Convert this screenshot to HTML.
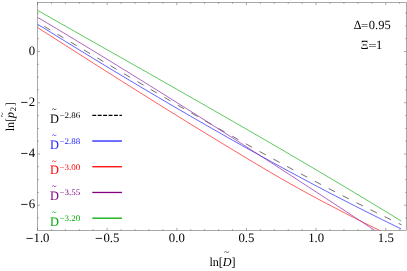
<!DOCTYPE html>
<html><head><meta charset="utf-8"><title>plot</title>
<style>
html,body{margin:0;padding:0;background:#fff;}
svg{display:block;font-family:"Liberation Serif",serif;will-change:transform;text-rendering:geometricPrecision;}
</style></head><body>
<svg width="407" height="271" viewBox="0 0 407 271">
<defs><clipPath id="c"><rect x="37.5" y="2.5" width="369.0" height="228.0"/></clipPath></defs>
<rect width="407" height="271" fill="#fff"/>
<rect x="37.5" y="2.5" width="369.0" height="228.0" fill="none" stroke="#555" stroke-width="0.5"/>
<path d="M37.50 230.5 v-2.6 M37.50 2.5 v2.6 M51.43 230.5 v-1.4 M51.43 2.5 v1.4 M65.36 230.5 v-1.4 M65.36 2.5 v1.4 M79.29 230.5 v-1.4 M79.29 2.5 v1.4 M93.22 230.5 v-1.4 M93.22 2.5 v1.4 M107.15 230.5 v-2.6 M107.15 2.5 v2.6 M121.08 230.5 v-1.4 M121.08 2.5 v1.4 M135.01 230.5 v-1.4 M135.01 2.5 v1.4 M148.94 230.5 v-1.4 M148.94 2.5 v1.4 M162.87 230.5 v-1.4 M162.87 2.5 v1.4 M176.80 230.5 v-2.6 M176.80 2.5 v2.6 M190.73 230.5 v-1.4 M190.73 2.5 v1.4 M204.66 230.5 v-1.4 M204.66 2.5 v1.4 M218.59 230.5 v-1.4 M218.59 2.5 v1.4 M232.52 230.5 v-1.4 M232.52 2.5 v1.4 M246.45 230.5 v-2.6 M246.45 2.5 v2.6 M260.38 230.5 v-1.4 M260.38 2.5 v1.4 M274.31 230.5 v-1.4 M274.31 2.5 v1.4 M288.24 230.5 v-1.4 M288.24 2.5 v1.4 M302.17 230.5 v-1.4 M302.17 2.5 v1.4 M316.10 230.5 v-2.6 M316.10 2.5 v2.6 M330.03 230.5 v-1.4 M330.03 2.5 v1.4 M343.96 230.5 v-1.4 M343.96 2.5 v1.4 M357.89 230.5 v-1.4 M357.89 2.5 v1.4 M371.82 230.5 v-1.4 M371.82 2.5 v1.4 M385.75 230.5 v-2.6 M385.75 2.5 v2.6 M399.68 230.5 v-1.4 M399.68 2.5 v1.4 M37.5 218.03 h1.4 M406.5 218.03 h-1.4 M37.5 205.22 h2.6 M406.5 205.22 h-2.6 M37.5 192.41 h1.4 M406.5 192.41 h-1.4 M37.5 179.60 h1.4 M406.5 179.60 h-1.4 M37.5 166.79 h1.4 M406.5 166.79 h-1.4 M37.5 153.98 h2.6 M406.5 153.98 h-2.6 M37.5 141.17 h1.4 M406.5 141.17 h-1.4 M37.5 128.36 h1.4 M406.5 128.36 h-1.4 M37.5 115.55 h1.4 M406.5 115.55 h-1.4 M37.5 102.74 h2.6 M406.5 102.74 h-2.6 M37.5 89.93 h1.4 M406.5 89.93 h-1.4 M37.5 77.12 h1.4 M406.5 77.12 h-1.4 M37.5 64.31 h1.4 M406.5 64.31 h-1.4 M37.5 51.50 h2.6 M406.5 51.50 h-2.6 M37.5 38.69 h1.4 M406.5 38.69 h-1.4 M37.5 25.88 h1.4 M406.5 25.88 h-1.4 M37.5 13.07 h1.4 M406.5 13.07 h-1.4" stroke="#555" stroke-width="0.5" fill="none"/>
<path d="M44.30 26.39 L50.27 29.95 M57.50 34.25 L63.49 37.82 M70.73 42.13 L76.74 45.70 M84.00 50.02 L90.02 53.60 M97.30 57.92 L103.34 61.49 M110.64 65.81 L116.69 69.39 M124.01 73.71 L130.08 77.28 M137.42 81.59 L143.50 85.16 M150.86 89.47 L156.95 93.03 M164.33 97.33 L170.44 100.88 M177.84 105.16 L183.97 108.71 M191.38 112.97 L197.52 116.50 M204.95 120.75 L211.11 124.27 M218.56 128.50 L224.74 131.99 M232.21 136.20 L238.40 139.67 M245.89 143.85 L252.09 147.30 M259.60 151.45 L265.82 154.88 M273.34 159.00 L279.58 162.40 M287.12 166.48 L293.38 169.85 M300.94 173.90 L307.21 177.23 M314.79 181.24 L321.07 184.54 M328.67 188.50 L334.97 191.76 M342.59 195.68 L348.91 198.90 M356.54 202.76 L362.87 205.94 M370.53 209.75 L376.87 212.89 M384.55 216.64 L390.91 219.73 M398.60 223.42 L401.50 224.80" stroke="#383838" stroke-width="0.72" fill="none" clip-path="url(#c)"/>
<path d="M37.50 24.18 L46.83 29.95 L56.15 35.71 L65.48 41.45 L74.80 47.17 L84.13 52.87 L93.45 58.54 L102.78 64.20 L112.11 69.83 L121.43 75.44 L130.76 81.03 L140.08 86.59 L149.41 92.12 L158.73 97.63 L168.06 103.11 L177.38 108.56 L186.71 113.98 L196.04 119.37 L205.36 124.74 L214.69 130.07 L224.01 135.37 L233.34 140.63 L242.66 145.87 L251.99 151.06 L261.32 156.23 L270.64 161.35 L279.97 166.45 L289.29 171.50 L298.62 176.51 L307.94 181.49 L317.27 186.43 L326.59 191.32 L335.92 196.18 L345.25 200.99 L354.57 205.76 L363.90 210.49 L373.22 215.17 L382.55 219.80 L391.87 224.39 L401.20 228.94" stroke="#3838ff" stroke-width="0.78" fill="none" clip-path="url(#c)"/>
<path d="M37.50 27.54 L46.83 33.48 L56.15 39.43 L65.48 45.37 L74.80 51.32 L84.13 57.26 L93.45 63.19 L102.78 69.12 L112.11 75.03 L121.43 80.93 L130.76 86.82 L140.08 92.69 L149.41 98.54 L158.73 104.37 L168.06 110.17 L177.38 115.95 L186.71 121.71 L196.04 127.44 L205.36 133.15 L214.69 138.84 L224.01 144.51 L233.34 150.16 L242.66 155.79 L251.99 161.40 L261.32 166.96 L270.64 172.46 L279.97 177.89 L289.29 183.23 L298.62 188.46 L307.94 193.59 L317.27 198.62 L326.59 203.56 L335.92 208.42 L345.25 213.22 L354.57 217.96 L363.90 222.65 L373.22 227.29 L382.55 231.87 L391.87 236.39 L401.20 240.85" stroke="#ff3030" stroke-width="0.78" fill="none" clip-path="url(#c)"/>
<path d="M37.50 17.30 L46.83 22.85 L56.15 28.42 L65.48 34.02 L74.80 39.64 L84.13 45.28 L93.45 50.95 L102.78 56.64 L112.11 62.35 L121.43 68.08 L130.76 73.84 L140.08 79.61 L149.41 85.40 L158.73 91.22 L168.06 97.05 L177.38 102.90 L186.71 108.78 L196.04 114.66 L205.36 120.57 L214.69 126.49 L224.01 132.44 L233.34 138.39 L242.66 144.36 L251.99 150.35 L261.32 156.36 L270.64 162.37 L279.97 168.41 L289.29 174.45 L298.62 180.51 L307.94 186.58 L317.27 192.67 L326.59 198.76 L335.92 204.87 L345.25 210.99 L354.57 217.12 L363.90 223.26 L373.22 229.41 L382.55 235.56 L391.87 241.73 L401.20 247.91" stroke="#9a38aa" stroke-width="0.78" fill="none" clip-path="url(#c)"/>
<path d="M37.50 10.29 L46.83 15.59 L56.15 20.88 L65.48 26.16 L74.80 31.44 L84.13 36.73 L93.45 42.00 L102.78 47.28 L112.11 52.56 L121.43 57.84 L130.76 63.13 L140.08 68.41 L149.41 73.70 L158.73 79.00 L168.06 84.30 L177.38 89.60 L186.71 94.92 L196.04 100.24 L205.36 105.57 L214.69 110.91 L224.01 116.26 L233.34 121.62 L242.66 126.99 L251.99 132.38 L261.32 137.78 L270.64 143.19 L279.97 148.62 L289.29 154.07 L298.62 159.53 L307.94 165.01 L317.27 170.51 L326.59 176.03 L335.92 181.57 L345.25 187.13 L354.57 192.71 L363.90 198.32 L373.22 203.95 L382.55 209.60 L391.87 215.28 L401.20 220.99" stroke="#30b830" stroke-width="0.78" fill="none" clip-path="url(#c)"/>
<path d="M92.3 115.30 H121.9" stroke="#000000" stroke-width="1.3" stroke-dasharray="3.9 1.53" fill="none"/>
<text transform="translate(50.00 122.80) scale(0.96 1.0)" font-size="12.9" fill="#000000">D</text>
<text transform="translate(59.50 118.10) scale(1.055 1.0)" font-size="8.5" fill="#000000">−2.86</text>
<text x="52.10" y="112.20" font-size="8.5" fill="#000000">~</text>
<path d="M92.3 141.02 H121.9" stroke="#2020ff" stroke-width="1.3" fill="none"/>
<text transform="translate(50.00 148.53) scale(0.96 1.0)" font-size="12.9" fill="#2020ff">D</text>
<text transform="translate(59.50 143.83) scale(1.055 1.0)" font-size="8.5" fill="#2020ff">−2.88</text>
<text x="52.10" y="138.16" font-size="8.5" fill="#2020ff">~</text>
<path d="M92.3 166.74 H121.9" stroke="#ff0000" stroke-width="1.3" fill="none"/>
<text transform="translate(50.00 174.26) scale(0.96 1.0)" font-size="12.9" fill="#ff0000">D</text>
<text transform="translate(59.50 169.56) scale(1.055 1.0)" font-size="8.5" fill="#ff0000">−3.00</text>
<text x="52.10" y="164.07" font-size="8.5" fill="#ff0000">~</text>
<path d="M92.3 192.46 H121.9" stroke="#800080" stroke-width="1.3" fill="none"/>
<text transform="translate(50.00 199.99) scale(0.96 1.0)" font-size="12.9" fill="#800080">D</text>
<text transform="translate(59.50 195.29) scale(1.055 1.0)" font-size="8.5" fill="#800080">−3.55</text>
<text x="52.10" y="189.19" font-size="8.5" fill="#800080">~</text>
<path d="M92.3 218.18 H121.9" stroke="#00aa00" stroke-width="1.3" fill="none"/>
<text transform="translate(50.00 225.72) scale(0.96 1.0)" font-size="12.9" fill="#00aa00">D</text>
<text transform="translate(59.50 221.02) scale(1.055 1.0)" font-size="8.5" fill="#00aa00">−3.20</text>
<text x="52.10" y="215.14" font-size="8.5" fill="#00aa00">~</text>
<text transform="translate(25.71 244.40) scale(1.08 1.35)" font-size="12.6">−</text>
<text transform="translate(33.50 242.20) scale(0.99 1.0)" font-size="12.9">1.0</text>
<text transform="translate(95.05 244.40) scale(1.08 1.35)" font-size="12.6">−</text>
<text transform="translate(103.47 242.20) scale(0.99 1.0)" font-size="12.9">0.5</text>
<text transform="translate(168.82 242.20) scale(0.99 1.0)" font-size="12.9">0.0</text>
<text transform="translate(238.47 242.20) scale(0.99 1.0)" font-size="12.9">0.5</text>
<text transform="translate(308.20 242.20) scale(0.99 1.0)" font-size="12.9">1.0</text>
<text transform="translate(377.86 242.20) scale(0.99 1.0)" font-size="12.9">1.5</text>
<text transform="translate(35.10 54.70) scale(0.99 1.0)" font-size="12.9" text-anchor="end">0</text>
<text transform="translate(35.10 105.70) scale(0.99 1.0)" font-size="12.9" text-anchor="end">2</text>
<text transform="translate(20.39 108.15) scale(1.08 1.35)" font-size="12.6">−</text>
<text transform="translate(35.10 156.70) scale(0.99 1.0)" font-size="12.9" text-anchor="end">4</text>
<text transform="translate(20.39 159.35) scale(1.08 1.35)" font-size="12.6">−</text>
<text transform="translate(35.10 207.90) scale(0.99 1.0)" font-size="12.9" text-anchor="end">6</text>
<text transform="translate(20.39 210.35) scale(1.08 1.35)" font-size="12.6">−</text>
<text transform="translate(353.70 28.70) scale(0.96 1.0)" font-size="12.5">Δ</text>
<text transform="translate(361.10 28.70) scale(1.03 0.83)" font-size="12.5">=</text>
<text x="368.80" y="28.70" font-size="12.5">0.95</text>
<text transform="translate(360.70 48.70) scale(0.96 1.0)" font-size="12.5">Ξ</text>
<text transform="translate(368.35 49.05) scale(1.2 0.88)" font-size="12.5">=</text>
<text x="376.05" y="48.70" font-size="12.5">1</text>
<text transform="translate(209.40 265.60) scale(0.985 1.0)" font-size="12.3">ln[<tspan font-style="italic">D</tspan>]</text>
<text x="224.10" y="255.20" font-size="9">~</text>
<g transform="translate(13.5 131.3) rotate(-90)"><text x="0" y="0" font-size="12">ln[<tspan font-style="italic">p</tspan><tspan font-size="8.5" dy="2" dx="0.7">2</tspan><tspan dy="-2" dx="0.7">]</tspan></text><text x="14.07" y="-8.1" font-size="9">~</text></g>
</svg>
</body></html>
